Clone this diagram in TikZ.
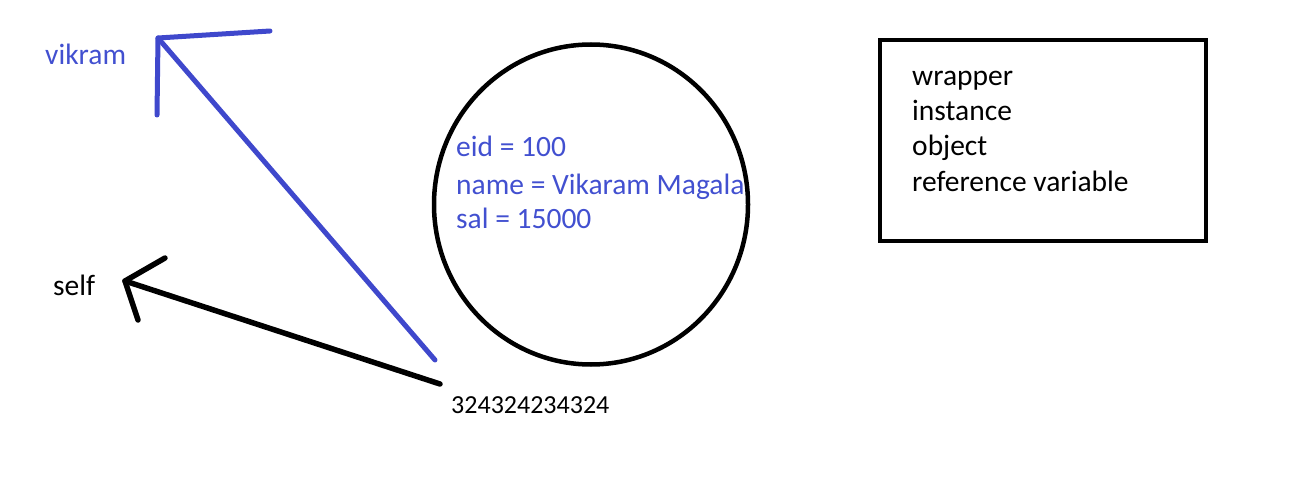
\documentclass[tikz,border=0pt]{standalone}
\usepackage{fontspec}
\setmainfont{Carlito}
\definecolor{penblue}{RGB}{63,72,204}
\definecolor{txtblue}{RGB}{66,80,208}
\begin{document}
\begin{tikzpicture}[x=1pt,y=-1pt,
  lbl/.style={inner sep=0pt,anchor=base west,font=\fontsize{29.5}{35}\selectfont},
  numlbl/.style={inner sep=0pt,anchor=base west,font=\fontsize{26}{30}\selectfont},
  bluelbl/.style={lbl,text=txtblue},
  bluepen/.style={draw=penblue,line width=5pt,line cap=round,line join=round},
  blackpen/.style={draw=black,line width=5.5pt,line cap=round,line join=round}]
\useasboundingbox (0,0) rectangle (1309,492);
% labels
\node[bluelbl] (vikram) at (45,65) {vikram};
\node[lbl] (self) at (53,295) {self};
\node[numlbl] (addr) at (451,413) {324324234324};
% object circle
\draw[line width=4.5pt] (591,204.5) ellipse [x radius=157, y radius=160];
\node[bluelbl] (eid) at (456,157) {eid = 100};
\node[bluelbl] (name) at (456,194) {name = Vikaram Magala};
\node[bluelbl] (sal) at (456,228) {sal = 15000};
% box
\draw[line width=4.5pt] (880,40) rectangle (1206,241);
\node[lbl] (w1) at (912,86) {wrapper};
\node[lbl] (w2) at (912,121) {instance};
\node[lbl] (w3) at (912,156) {object};
\node[lbl] (w4) at (912,191) {reference variable};
% blue arrow
\coordinate (bstart) at (435,360);
\coordinate (btip) at (158,38);
\coordinate (barm1) at (270,31);
\coordinate (barm2) at (157,115);
\draw[bluepen] (bstart) -- (btip);
\draw[bluepen] (barm1) -- (btip) -- (barm2);
% black arrow
\coordinate (kstart) at (440,384);
\coordinate (ktip) at (125,281);
\coordinate (karm1) at (165,258);
\coordinate (karm2) at (138,320);
\draw[blackpen] (kstart) -- (ktip);
\draw[blackpen] (karm1) -- (ktip) -- (karm2);
\end{tikzpicture}
\end{document}
